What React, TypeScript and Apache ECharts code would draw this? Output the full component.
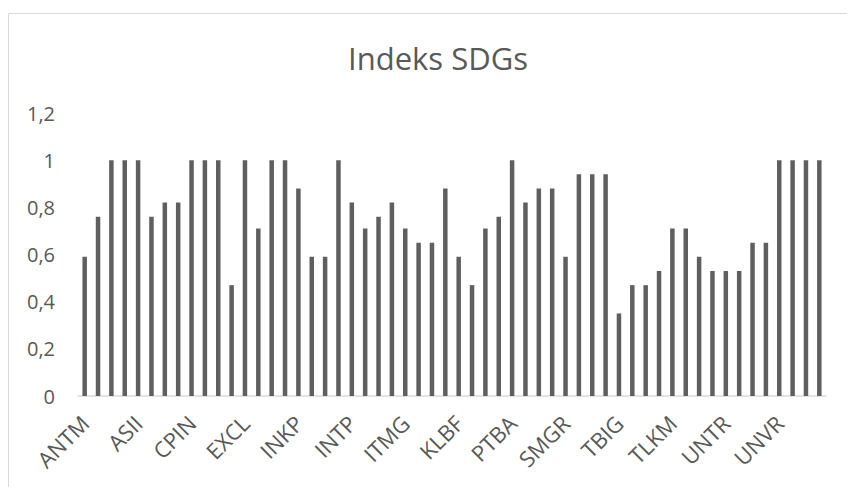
import React, { useEffect, useRef } from "react";
import * as echarts from "echarts";

const companies = [
  "ANTM", "ASII", "CPIN", "EXCL", "INKP", "INTP", "ITMG",
  "KLBF", "PTBA", "SMGR", "TBIG", "TLKM", "UNTR", "UNVR",
];
const yearsPerCompany = 4;
const categories: string[] = companies.flatMap((c) =>
  Array.from({ length: yearsPerCompany }, () => c)
);

const values = [
  0.59, 0.76, 1, 1,
  1, 0.76, 0.82, 0.82,
  1, 1, 1, 0.47,
  1, 0.71, 1, 1,
  0.88, 0.59, 0.59, 1,
  0.82, 0.71, 0.76, 0.82,
  0.71, 0.65, 0.65, 0.88,
  0.59, 0.47, 0.71, 0.76,
  1, 0.82, 0.88, 0.88,
  0.59, 0.94, 0.94, 0.94,
  0.35, 0.47, 0.47, 0.53,
  0.71, 0.71, 0.59, 0.53,
  0.53, 0.53, 0.65, 0.65,
  1, 1, 1, 1,
];

const yTicks = [0, 0.2, 0.4, 0.6, 0.8, 1, 1.2];
const title = "Indeks SDGs";

export default function App() {
  const ref = useRef<HTMLDivElement>(null);
  useEffect(() => {
    if (!ref.current) return;
    const chart = echarts.init(ref.current, null, { renderer: "svg" });
    const font = "'Open Sans', 'DejaVu Sans', sans-serif";
    chart.setOption({
      animation: false,
      backgroundColor: "#ffffff",
      textStyle: { fontFamily: font },
      graphic: [
        {
          type: "rect",
          shape: { x: 0.5, y: 5.5, width: 1000, height: 1000 },
          style: { fill: "none", stroke: "#d9d9d9", lineWidth: 1 },
          silent: true,
        },
        {
          type: "text",
          x: 430,
          y: 50,
          style: {
            text: title,
            fontFamily: font,
            fontSize: 31,
            fill: "#595959",
            align: "center",
            verticalAlign: "middle",
          },
        },
      ],
      grid: { left: 70, right: 29, top: 105, bottom: 91 },
      xAxis: {
        type: "category",
        data: categories,
        axisLine: { lineStyle: { color: "#d9d9d9", width: 1.5 } },
        axisTick: { show: false },
        axisLabel: {
          interval: yearsPerCompany - 1,
          rotate: 45,
          color: "#595959",
          fontSize: 22,
          fontFamily: font,
          margin: 23,
        },
      },
      yAxis: {
        type: "value",
        min: 0,
        max: 1.2,
        interval: 0.2,
        axisLine: { show: false },
        axisTick: { show: false },
        splitLine: { show: false },
        axisLabel: {
          color: "#595959",
          fontSize: 20,
          fontFamily: font,
          margin: 23,
          formatter: (v: number) => {
            const t = yTicks.find((x) => Math.abs(x - v) < 1e-6);
            const n = t !== undefined ? t : v;
            return String(Math.round(n * 10) / 10).replace(".", ",");
          },
        },
      },
      series: [
        {
          type: "bar",
          data: values,
          barWidth: 4.5,
          itemStyle: { color: "#5f5f5f" },
        },
      ],
    });
    return () => chart.dispose();
  }, []);
  return <div ref={ref} style={{ width: 847, height: 479 }} />;
}
